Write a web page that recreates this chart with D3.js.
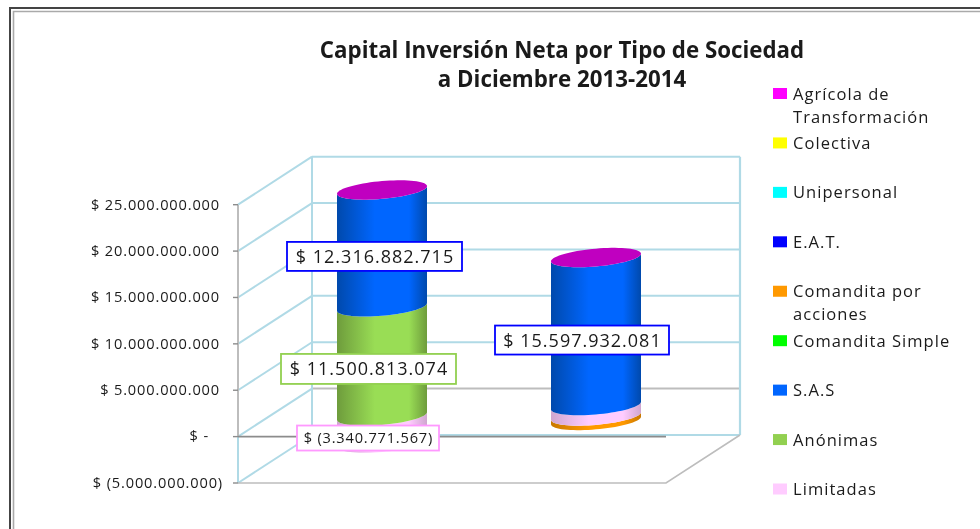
<!DOCTYPE html>
<html><head><meta charset="utf-8">
<script src="https://cdnjs.cloudflare.com/ajax/libs/d3/7.8.5/d3.min.js"></script>
<style>html,body{margin:0;padding:0;background:#fff}svg{display:block;filter:blur(0.35px)}text{font-family:"Open Sans",sans-serif;fill:#1a1a1a}</style>
</head><body><svg id="c" width="980" height="529"></svg>
<script>
const titleLines = ["Capital Inversión Neta por Tipo de Sociedad", "a Diciembre 2013-2014"];
const categories = ["2013", "2014"];
const tickValues = [25e9, 20e9, 15e9, 10e9, 5e9, 0, -5e9];
const tickLabels = ["$ 25.000.000.000", "$ 20.000.000.000", "$ 15.000.000.000", "$ 10.000.000.000", "$ 5.000.000.000", "$ -", "$ (5.000.000.000)"];
const legendNames = [["Agrícola de", "Transformación"], ["Colectiva"], ["Unipersonal"], ["E.A.T."], ["Comandita por", "acciones"], ["Comandita Simple"], ["S.A.S"], ["Anónimas"], ["Limitadas"]];
const legendColors = ["#FF00FF", "#FFFF00", "#00FFFF", "#0000FF", "#FF9900", "#00FF00", "#0066FF", "#92D050", "#FFCCFF"];
// stack order: bottom to top
const limitadas = [-3340771567, 1100000000];
const comanditaAcciones = [0, -550000000];
const anonimas = [11500813074, 0];
const sas = [12316882715, 15597932081];
const labelTexts = ["$ 12.316.882.715", "$ 11.500.813.074", "$ (3.340.771.567)", "$ 15.597.932.081"];

const svg = d3.select("#c");
const defs = svg.append("defs");
const y = d3.scaleLinear().domain([-5e9, 25e9]).range([483, 204.7]);
const depthX = 74, depthY = -48;
const wallL = 238, wallR = 666;
const yBar = d3.scaleLinear().domain([-5e9, 0, 25e9]).range([416 + 5 * 8.1, 416, 416 - 25 * 9.49]);
const xBar = d3.scaleOrdinal().domain(categories).range([382, 596]);
const rx = 45, ry = 8.9, skew = 3.85;

// frame
svg.append("path").attr("d", "M980,8H10V529").attr("fill", "none").attr("stroke", "#444").attr("stroke-width", 2);
svg.append("path").attr("d", "M980,11.5H13.5V529").attr("fill", "none").attr("stroke", "#aaa").attr("stroke-width", 1.6);

// walls
const wallColor = "#B0DAE6", g = svg.append("g").attr("fill", "none");
tickValues.forEach(v => {
  const yy = y(v);
  g.append("line").attr("x1", wallL).attr("y1", yy).attr("x2", wallL + depthX).attr("y2", yy + depthY).attr("stroke", wallColor).attr("stroke-width", 2);
  g.append("line").attr("x1", wallL + depthX).attr("y1", yy + depthY).attr("x2", wallR + depthX).attr("y2", yy + depthY)
    .attr("stroke", v === 0 ? "#BDBDBD" : wallColor).attr("stroke-width", 2);
});
g.append("line").attr("x1", wallL + depthX).attr("x2", wallL + depthX).attr("y1", y(25e9) + depthY).attr("y2", y(-5e9) + depthY).attr("stroke", wallColor).attr("stroke-width", 2);
g.append("line").attr("x1", wallR + depthX).attr("x2", wallR + depthX).attr("y1", y(25e9) + depthY).attr("y2", y(-5e9) + depthY).attr("stroke", wallColor).attr("stroke-width", 2.2);
g.append("line").attr("x1", wallL).attr("x2", wallL).attr("y1", y(0)).attr("y2", y(-5e9)).attr("stroke", wallColor).attr("stroke-width", 2);
g.append("line").attr("x1", wallL).attr("x2", wallL).attr("y1", y(25e9)).attr("y2", y(0)).attr("stroke", "#BDBDBD").attr("stroke-width", 2);
// floor
g.append("path").attr("d", `M${wallL},${y(-5e9)}H${wallR}L${wallR + depthX},${y(-5e9) + depthY}`).attr("stroke", "#BDBDBD").attr("stroke-width", 1.6);
g.append("line").attr("x1", wallL).attr("x2", wallR).attr("y1", y(0)).attr("y2", y(0)).attr("stroke", "#8c8c8c").attr("stroke-width", 1.8);
tickValues.forEach(v => g.append("line").attr("x1", wallL - 5).attr("x2", wallL).attr("y1", y(v)).attr("y2", y(v)).attr("stroke", "#8c8c8c").attr("stroke-width", 1.4));

// tick labels
tickValues.forEach((v, i) => svg.append("text").attr("x", v === 0 ? 209 : (v < 0 ? 223 : 220)).attr("y", y(v) + 4.8).attr("text-anchor", "end")
  .attr("font-size", 14.6).attr("letter-spacing", 0.85).text(tickLabels[i]));

// gradients
function grad(id, edge, mid) {
  const lg = defs.append("linearGradient").attr("id", id);
  [[0, edge], [0.42, mid], [0.8, mid], [1, edge]].forEach(s => lg.append("stop").attr("offset", s[0]).attr("stop-color", s[1]));
}
grad("gLim", "#CFA6CF", "#FFCCFF");
grad("gAcc", "#C87800", "#FF9900");
grad("gAno", "#6E9C3C", "#99DD55");
grad("gSas", "#0049AC", "#0066FF");

const tAll = d3.range(0, 2 * Math.PI + 0.01, Math.PI / 36);
const tFront = d3.range(0, Math.PI + 0.01, Math.PI / 36);
const ell = (cx, cy, t) => [cx + rx * Math.cos(t), cy - skew * Math.cos(t) + ry * Math.sin(t)];
const line = d3.line();

function segment(cx, y0, y1, fill) {
  const bottom = tFront.map(t => ell(cx, y0, t));          // right to left along the front
  const top = tFront.slice().reverse().map(t => ell(cx, y1, t));  // left to right
  svg.append("path").attr("d", line(bottom.concat(top)) + "Z").attr("fill", fill);
}
categories.forEach((c, i) => {
  const cx = xBar(c);
  const parts = [];
  let neg = 0, pos = 0;
  [[comanditaAcciones[i], "url(#gAcc)"], [limitadas[i], "url(#gLim)"]].forEach(p => {
    if (p[0] < 0) { parts.push([neg + p[0], neg, p[1]]); neg += p[0]; }
  });
  [[limitadas[i], "url(#gLim)"], [anonimas[i], "url(#gAno)"], [sas[i], "url(#gSas)"]].forEach(p => {
    if (p[0] > 0) { parts.push([pos, pos + p[0], p[1]]); pos += p[0]; }
  });
  parts.sort((a, b) => a[0] - b[0]).forEach(p => segment(cx, yBar(p[0]), yBar(p[1]), p[2]));
  svg.append("path").attr("d", line(tAll.map(t => ell(cx, yBar(pos), t))) + "Z").attr("fill", "#C000C0");
});

// data labels
function label(cat, v0, v1, text, dx, dy, w, h, color, fs, ls) {
  const cx = xBar(cat) + dx, cy = (yBar(v0) + yBar(v1)) / 2 + dy;
  svg.append("rect").attr("x", cx - w / 2).attr("y", cy - h / 2).attr("width", w).attr("height", h).attr("fill", "#fff").attr("stroke", color).attr("stroke-width", 1.8);
  svg.append("text").attr("x", cx + ls / 2).attr("y", cy + fs * 0.36).attr("text-anchor", "middle").attr("font-size", fs).attr("letter-spacing", ls).text(text);
}
label(categories[0], anonimas[0], anonimas[0] + sas[0], labelTexts[0], -7.5, 8, 175, 29, "#0000FF", 18, 1);
label(categories[0], 0, anonimas[0], labelTexts[1], -13.5, 7.5, 175, 30, "#92D050", 18, 1);
label(categories[0], limitadas[0], 0, labelTexts[2], -14, 8.5, 142, 25, "#FF99FF", 14.6, 0.8);
label(categories[1], limitadas[1], limitadas[1] + sas[1], labelTexts[3], -14, 8.5, 174, 29, "#0000FF", 18, 1);

// title
titleLines.forEach((t, i) => svg.append("text").attr("x", 562).attr("y", 58 + i * 29).attr("text-anchor", "middle").attr("font-size", 22.3).attr("font-weight", 700).attr("fill", "#111").text(t));

// legend
const legendY = d3.scalePoint().domain(d3.range(legendNames.length)).range([93.5, 489]);
legendNames.forEach((n, i) => {
  const cy = legendY(i);
  svg.append("rect").attr("x", 773).attr("y", cy - 5.5).attr("width", 14).attr("height", 11).attr("fill", legendColors[i]);
  n.forEach((s, j) => svg.append("text").attr("x", 793).attr("y", cy + 6 + j * 23).attr("font-size", 16.5).attr("letter-spacing", 1.05).text(s));
});
</script></body></html>
